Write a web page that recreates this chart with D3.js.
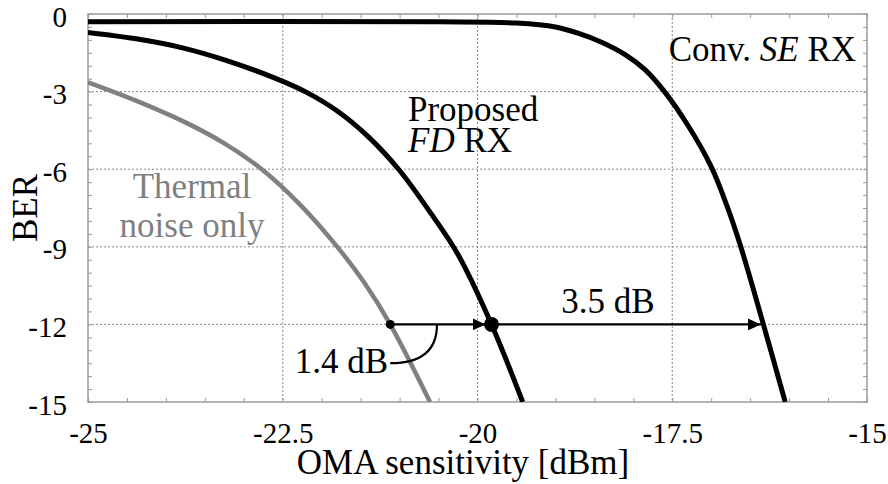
<!DOCTYPE html>
<html>
<head>
<meta charset="utf-8">
<script src="https://cdn.jsdelivr.net/npm/d3@7"></script>
<style>
  body { margin: 0; background: #fff; }
  svg { display: block; font-family: "Liberation Serif", "Times New Roman", serif; }
</style>
</head>
<body>
<svg></svg>
<script>
// curves: [OMA sensitivity dBm, log10 BER]
let convSE = [
    [-25, -0.30], [-20.5, -0.30], [-19.5, -0.35], [-19.0, -0.5], [-18.7, -0.75],
    [-18.4, -1.1], [-18.1, -1.58], [-17.85, -2.15], [-17.6, -3.0], [-17.3, -4.3],
    [-17.0, -5.9], [-16.8, -7.4], [-16.62, -9.0], [-16.33, -12.0], [-16.05, -15.0]
]
let proposedFD = [
    [-25, -0.71], [-24.4, -0.95], [-23.8, -1.3], [-23.2, -1.82], [-22.6, -2.48],
    [-22.2, -3.02], [-21.8, -3.75], [-21.4, -4.75], [-21.0, -6.05], [-20.6, -7.7],
    [-20.25, -9.3], [-19.82, -12.0], [-19.42, -15.0]
]
let thermalOnly = [
    [-25, -2.64], [-24.4, -3.33], [-23.75, -4.19], [-23.25, -5.0], [-22.77, -6.0],
    [-22.3, -7.3], [-21.8, -9.0], [-21.45, -10.4], [-21.12, -12.0], [-20.61, -15.0]
]

let xTicks = [-25, -22.5, -20, -17.5, -15]
let yTicks = [0, -3, -6, -9, -12, -15]

// gap markers at BER 1e-12
let berLevel = -12
let thermalAt = -21.12
let proposedAt = -19.82
let convAt = -16.33

let width = 888
let height = 484
let plotLeft = 88
let plotRight = 867
let plotTop = 14
let plotBottom = 402

let svg = d3.select('svg')
svg.attr('width', width).attr('height', height)

let xScale = d3.scaleLinear().domain([-25, -15]).range([plotLeft, plotRight])
let yScale = d3.scaleLinear().domain([0, -15]).range([plotTop, plotBottom])

let minorX = d3.range(-25, -14.99, 0.5)
let minorY = d3.range(0, -15.01, -0.5)

// grid
svg.append('g')
   .selectAll('line')
   .data(xTicks.slice(1, -1))
   .enter()
   .append('line')
   .attr('x1', (d) => xScale(d)).attr('x2', (d) => xScale(d))
   .attr('y1', plotTop).attr('y2', plotBottom)
   .attr('stroke', '#8a8a8a').attr('stroke-width', 1).attr('stroke-dasharray', '2,2')

svg.append('g')
   .selectAll('line')
   .data(yTicks.slice(1, -1))
   .enter()
   .append('line')
   .attr('x1', plotLeft).attr('x2', plotRight)
   .attr('y1', (d) => yScale(d)).attr('y2', (d) => yScale(d))
   .attr('stroke', '#8a8a8a').attr('stroke-width', 1).attr('stroke-dasharray', '2,2')

// minor ticks on all four sides
let tickAxis = (axis, tx, ty) => {
    let g = svg.append('g')
       .attr('transform', 'translate(' + tx + ',' + ty + ')')
       .call(axis)
    g.select('.domain').remove()
    g.selectAll('line').attr('stroke', '#999')
    return g
}
tickAxis(d3.axisBottom(xScale).tickValues(minorX).tickSize(-4).tickFormat(''), 0, plotBottom)
tickAxis(d3.axisTop(xScale).tickValues(minorX).tickSize(-4).tickFormat(''), 0, plotTop)
tickAxis(d3.axisLeft(yScale).tickValues(minorY).tickSize(-4).tickFormat(''), plotLeft, 0)
tickAxis(d3.axisRight(yScale).tickValues(minorY).tickSize(-4).tickFormat(''), plotRight, 0)

// labelled axes
let xAxis = d3.axisBottom(xScale).tickValues(xTicks).tickSize(0).tickPadding(20)
    .tickFormat((d) => d)
let gx = svg.append('g')
   .attr('transform', 'translate(0,' + plotBottom + ')')
   .call(xAxis)
gx.select('.domain').remove()
gx.attr('font-family', null)
gx.selectAll('text').attr('font-size', 29).attr('fill', '#000')

let yAxis = d3.axisLeft(yScale).tickValues(yTicks).tickSize(0).tickPadding(21)
    .tickFormat((d) => d)
let gy = svg.append('g')
   .attr('transform', 'translate(' + plotLeft + ',0)')
   .call(yAxis)
gy.select('.domain').remove()
gy.attr('font-family', null)
gy.selectAll('text').attr('font-size', 29).attr('fill', '#000')
   .attr('dy', '0.42em')

// frame
svg.append('rect')
   .attr('x', plotLeft).attr('y', plotTop)
   .attr('width', plotRight - plotLeft).attr('height', plotBottom - plotTop)
   .attr('fill', 'none').attr('stroke', '#9a9a9a').attr('stroke-width', 1.5)

// curves
let line = d3.line()
    .x((d) => xScale(d[0]))
    .y((d) => yScale(d[1]))
    .curve(d3.curveCatmullRom.alpha(0.5))

let clip = svg.append('clipPath').attr('id', 'plot')
clip.append('rect').attr('x', plotLeft).attr('y', plotTop)
    .attr('width', plotRight - plotLeft).attr('height', plotBottom - plotTop)

let curves = svg.append('g').attr('clip-path', 'url(#plot)')
curves.append('path').datum(thermalOnly).attr('d', line)
      .attr('fill', 'none').attr('stroke', '#808080').attr('stroke-width', 4.5)
curves.append('path').datum(proposedFD).attr('d', line)
      .attr('fill', 'none').attr('stroke', '#000').attr('stroke-width', 5)
curves.append('path').datum(convSE).attr('d', line)
      .attr('fill', 'none').attr('stroke', '#000').attr('stroke-width', 5)

// arrows
let defs = svg.append('defs')
defs.append('marker')
    .attr('id', 'head')
    .attr('markerUnits', 'userSpaceOnUse')
    .attr('markerWidth', 14).attr('markerHeight', 12)
    .attr('refX', 13).attr('refY', 6)
    .attr('orient', 'auto')
    .append('path')
    .attr('d', 'M0,0 L13,6 L0,12 Z')
    .attr('fill', '#000')

let yGap = yScale(berLevel)
svg.append('line')
   .attr('x1', xScale(thermalAt)).attr('x2', xScale(proposedAt) - 6)
   .attr('y1', yGap).attr('y2', yGap)
   .attr('stroke', '#000').attr('stroke-width', 2.2)
   .attr('marker-end', 'url(#head)')
svg.append('line')
   .attr('x1', xScale(proposedAt)).attr('x2', xScale(convAt) - 2.5)
   .attr('y1', yGap).attr('y2', yGap)
   .attr('stroke', '#000').attr('stroke-width', 2.2)
   .attr('marker-end', 'url(#head)')

svg.append('circle').attr('cx', xScale(thermalAt)).attr('cy', yGap).attr('r', 4.5).attr('fill', '#000')
svg.append('circle').attr('cx', xScale(proposedAt)).attr('cy', yGap).attr('r', 7.5).attr('fill', '#000')

// leader for 1.4 dB
let lead = d3.path()
lead.moveTo(xScale(-21.12), yScale(-13.5))
lead.quadraticCurveTo(xScale(-20.52), yScale(-13.5), xScale(-20.52), yScale(-12))
svg.append('path').attr('d', lead.toString())
   .attr('fill', 'none').attr('stroke', '#000').attr('stroke-width', 2.2)

// labels
let label = (x, y, anchor, color) => svg.append('text')
    .attr('x', x).attr('y', y)
    .attr('text-anchor', anchor)
    .attr('font-size', 35)
    .attr('fill', color)

let conv = label(856, 61, 'end', '#000')
conv.append('tspan').text('Conv. ')
conv.append('tspan').attr('font-style', 'italic').text('SE')
conv.append('tspan').text(' RX')

label(408, 121, 'start', '#000').text('Proposed')
let fd = label(408, 152, 'start', '#000')
fd.append('tspan').attr('font-style', 'italic').text('FD')
fd.append('tspan').text(' RX')

label(192, 198, 'middle', '#7f7f7f').text('Thermal')
label(192, 237, 'middle', '#7f7f7f').text('noise only')

label(608, 313, 'middle', '#000').text('3.5 dB')
label(388, 373, 'end', '#000').text('1.4 dB')

// axis titles
label(463, 474, 'middle', '#000').text('OMA sensitivity [dBm]')
label(0, 0, 'middle', '#000')
   .attr('transform', 'translate(37,208) rotate(-90)')
   .text('BER')
</script>
</body>
</html>
